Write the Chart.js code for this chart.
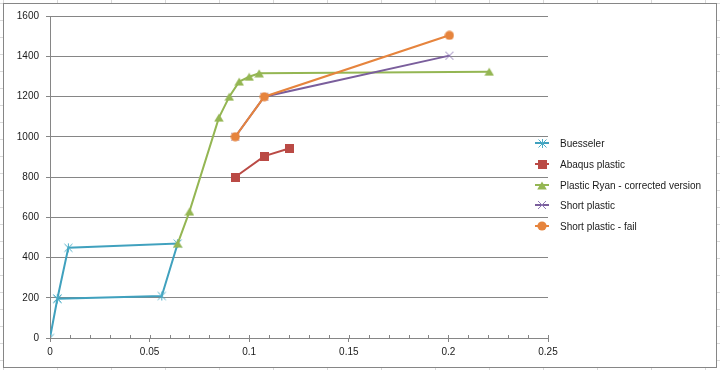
<!DOCTYPE html>
<html>
<head>
<meta charset="utf-8">
<script src="https://cdn.jsdelivr.net/npm/chart.js@4/dist/chart.umd.min.js"></script>
<style>
  html, body { margin: 0; padding: 0; }
  body {
    width: 720px; height: 370px; position: relative; overflow: hidden;
    background-color: #ffffff;
    background-image:
      linear-gradient(to right, #d9d9d9 1px, transparent 1px),
      linear-gradient(to bottom, #d9d9d9 1px, transparent 1px);
    background-size: 54px 100%, 100% 17px;
    background-position: 3px 0, 0 3px;
  }
  #box {
    position: absolute; left: 3px; top: 3px; width: 714px; height: 365px;
    box-sizing: border-box; border: 1px solid #868686; background: #ffffff;
  }
  #c { position: absolute; left: 0; top: 0; }
</style>
</head>
<body>
<div id="box"></div>
<canvas id="c" width="720" height="370"></canvas>
<script>
// ---- Data ----
const seriesNames = ["Buesseler", "Abaqus plastic", "Plastic Ryan - corrected version", "Short plastic", "Short plastic - fail"];

const buesselerX = [0, 0.0037, 0.0561, 0.0641, 0.0092, 0.0037];
const buesselerY = [0, 195, 209, 469, 448, 195];

const abaqusX = [0.093, 0.1076, 0.120];
const abaqusY = [800, 904, 942];

const ryanX = [0.0641, 0.070, 0.0848, 0.090, 0.095, 0.100, 0.105, 0.2205];
const ryanY = [469, 628, 1095, 1199, 1274, 1298, 1315, 1323];

const shortX = [0.093, 0.1076, 0.2005];
const shortY = [1000, 1199, 1403];

const failX = [0.093, 0.1076, 0.2005];
const failY = [1000, 1199, 1504];

const xTickLabels = ["0", "0.05", "0.1", "0.15", "0.2", "0.25"];
const yTickLabels = ["0", "200", "400", "600", "800", "1000", "1200", "1400", "1600"];

// ---- Styling ----
const colors = ["#40A1BE", "#BA4A45", "#94B653", "#7A5E9C", "#E6843D"];
const FONT = "Liberation Sans, Arial, sans-serif";

function mk(w, h, fn) {
  const cv = document.createElement("canvas");
  cv.width = w; cv.height = h;
  const g = cv.getContext("2d");
  fn(g);
  return cv;
}
const markers = [
  mk(11, 11, g => { g.strokeStyle = "#4BACC6"; g.lineWidth = 1;
    g.beginPath(); g.moveTo(5.5, 1); g.lineTo(5.5, 10);
    g.moveTo(1.5, 1.5); g.lineTo(9.5, 9.5); g.moveTo(9.5, 1.5); g.lineTo(1.5, 9.5); g.stroke(); }),
  mk(9, 9, g => { g.fillStyle = "#BA4A45"; g.fillRect(0, 0, 9, 9); }),
  mk(10, 9, g => { g.fillStyle = "#94B653"; g.beginPath(); g.moveTo(5, 0.5); g.lineTo(9.8, 8.5); g.lineTo(0.2, 8.5); g.closePath(); g.fill(); }),
  mk(10, 10, g => { g.strokeStyle = "#8f7ab5"; g.lineWidth = 1;
    g.beginPath(); g.moveTo(1, 1); g.lineTo(9, 9); g.moveTo(9, 1); g.lineTo(1, 9); g.stroke(); }),
  mk(10, 10, g => { g.fillStyle = "#E6843D"; g.beginPath(); g.arc(5, 5, 4.6, 0, Math.PI * 2); g.fill(); })
];

function pts(xs, ys) { return xs.map((x, i) => ({ x: x, y: ys[i] })); }
const allX = [buesselerX, abaqusX, ryanX, shortX, failX];
const allY = [buesselerY, abaqusY, ryanY, shortY, failY];

const datasets = seriesNames.map((name, i) => ({
  label: name,
  data: pts(allX[i], allY[i]),
  showLine: true,
  borderColor: colors[i],
  backgroundColor: colors[i],
  borderWidth: 2,
  tension: 0,
  pointStyle: markers[i],
  pointRadius: 5,
  order: 5 - i
}));

const isMajor = v => Math.abs(Math.round(v * 100) % 5) === 0;

const innerTicks = {
  id: "innerTicks",
  afterDatasetsDraw(chart) {
    const xs = chart.scales.x, ctx = chart.ctx, b = chart.chartArea.bottom;
    ctx.save();
    ctx.strokeStyle = "#868686"; ctx.lineWidth = 1;
    xs.ticks.forEach(t => {
      const px = Math.round(xs.getPixelForValue(t.value)) + 0.5;
      ctx.beginPath(); ctx.moveTo(px, b - 3); ctx.lineTo(px, b); ctx.stroke();
    });
    ctx.restore();
  }
};

const customLegend = {
  id: "customLegend",
  afterDraw(chart) {
    const ctx = chart.ctx;
    const x0 = 535, x1 = 549, tx = 560, y0 = 143, dy = 20.8;
    ctx.save();
    chart.data.datasets.forEach((ds, i) => {
      const y = Math.round(y0 + i * dy);
      ctx.strokeStyle = ds.borderColor; ctx.lineWidth = 2;
      ctx.beginPath(); ctx.moveTo(x0, y); ctx.lineTo(x1, y); ctx.stroke();
      const m = ds.pointStyle;
      ctx.drawImage(m, Math.round((x0 + x1) / 2 - m.width / 2), Math.round(y - m.height / 2));
      ctx.fillStyle = "#1a1a1a";
      ctx.font = "10px " + FONT;
      ctx.textBaseline = "middle"; ctx.textAlign = "left";
      ctx.fillText(ds.label, tx, y + 1);
    });
    ctx.restore();
  }
};

new Chart(document.getElementById("c"), {
  type: "scatter",
  data: { datasets: datasets },
  plugins: [innerTicks, customLegend],
  options: {
    responsive: false,
    animation: false,
    layout: { padding: { left: 0, top: 16, right: 172, bottom: 0 } },
    plugins: { legend: { display: false }, tooltip: { enabled: false } },
    scales: {
      x: {
        type: "linear", min: 0, max: 0.25,
        afterFit(s) { s.height = 32; },
        ticks: {
          stepSize: 0.01, autoSkip: false, maxRotation: 0, padding: 4,
          color: "#1a1a1a", font: { family: FONT, size: 10 },
          callback(v) {
            if (!isMajor(v)) return "";
            return xTickLabels[Math.round(v * 20)];
          }
        },
        grid: {
          drawOnChartArea: false, drawTicks: true, tickLength: 4,
          tickColor: c => (c.tick && isMajor(c.tick.value)) ? "#868686" : "rgba(0,0,0,0)"
        },
        border: { color: "#868686", width: 1 }
      },
      y: {
        type: "linear", min: 0, max: 1600,
        afterFit(s) { s.width = 50; },
        ticks: {
          stepSize: 200, padding: 7, color: "#1a1a1a",
          font: { family: FONT, size: 10 },
          callback(v) { return yTickLabels[Math.round(v / 200)]; }
        },
        grid: { color: "#868686", lineWidth: 1, tickLength: 4, drawTicks: true },
        border: { color: "#868686", width: 1 }
      }
    }
  }
});
</script>
</body>
</html>
